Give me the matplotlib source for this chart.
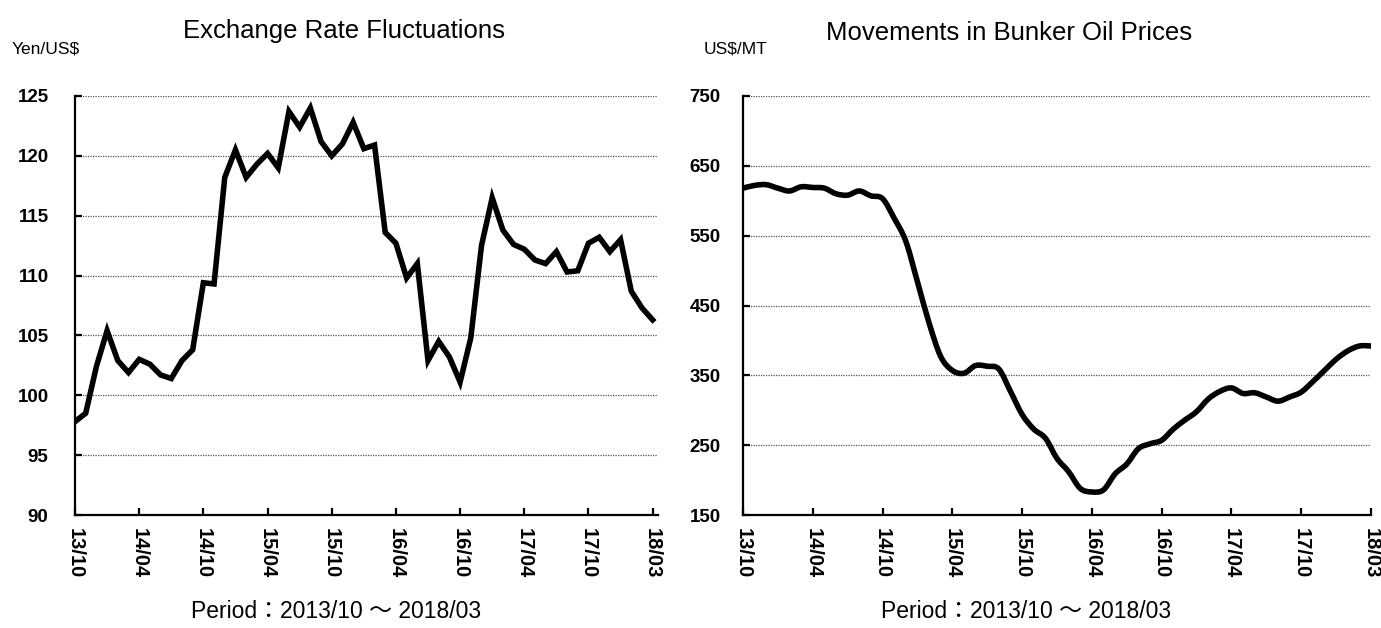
import matplotlib
matplotlib.use('Agg')
import matplotlib.pyplot as plt
from matplotlib.path import Path
from matplotlib.patches import PathPatch
import numpy as np

# monthly values, 2013/10 .. 2018/03
yen_usd = [97.8, 98.5, 102.4, 105.4, 102.9, 101.9, 103.0, 102.6, 101.7, 101.4,
           102.9, 103.8, 109.4, 109.3, 118.2, 120.5, 118.2, 119.3, 120.2, 119.0,
           123.7, 122.4, 124.0, 121.2, 120.0, 121.0, 122.8, 120.6, 120.9, 113.6,
           112.7, 109.8, 111.0, 102.9, 104.5, 103.2, 101.1, 104.8, 112.5, 116.5,
           113.8, 112.6, 112.2, 111.3, 111.0, 112.0, 110.3, 110.4, 112.7, 113.2,
           112.0, 113.0, 108.7, 107.3, 106.3]

bunker = [618, 622, 623, 618, 614, 620, 619, 618, 610, 608,
          614, 607, 603, 575, 542, 484, 425, 377, 357, 353,
          364, 363, 359, 327, 294, 273, 260, 231, 212, 188,
          183, 186, 209, 223, 245, 252, 257, 273, 286, 298,
          316, 327, 332, 324, 325, 319, 313, 319, 326, 341,
          357, 373, 385, 392, 392]

tick_labels = ['13/10', '14/04', '14/10', '15/04', '15/10',
               '16/04', '16/10', '17/04', '17/10', '18/03']
yen_ticks = [90, 95, 100, 105, 110, 115, 120, 125]
oil_ticks = [150, 250, 350, 450, 550, 650, 750]

period_text = 'Period\uff1a2013/10 \uff5e 2018/03'
txt_font = ['Liberation Sans', 'Noto Sans CJK JP', 'DejaVu Sans']


def smooth_path(x, y):
    # excel-style smoothed line: catmull-rom segments as cubic beziers
    x = np.asarray(x, float)
    y = np.asarray(y, float)
    pts = np.column_stack([x, y])
    n = len(pts)
    verts = [pts[0]]
    codes = [Path.MOVETO]
    for i in range(n - 1):
        p0 = pts[max(i - 1, 0)]
        p1 = pts[i]
        p2 = pts[i + 1]
        p3 = pts[min(i + 2, n - 1)]
        c1 = p1 + (p2 - p0) / 6.0
        c2 = p2 - (p3 - p1) / 6.0
        verts += [c1, c2, p2]
        codes += [Path.CURVE4] * 3
    return Path(verts, codes)


def style_axes(ax, yticks, xmax, ypad=16):
    for s in ['top', 'right']:
        ax.spines[s].set_visible(False)
    for s in ['left', 'bottom']:
        ax.spines[s].set_linewidth(1.6)
        ax.spines[s].set_color('black')
    ax.set_ylim(yticks[0], yticks[-1])
    ax.set_yticks(yticks)
    ax.set_xlim(0, xmax)
    ax.set_xticks(np.arange(0, 55, 6))
    ax.set_xticklabels(tick_labels, rotation=270, fontweight='bold',
                       fontsize=14.5, family='Liberation Sans')
    ax.set_yticklabels([str(t) for t in yticks], fontweight='bold',
                       fontsize=13.5, family='Liberation Sans')
    ax.tick_params(axis='y', direction='in', length=5, width=1.6, pad=ypad)
    ax.tick_params(axis='x', direction='in', length=5, width=1.6, pad=9)
    for t in yticks[1:]:
        ax.axhline(t, color='#555555', lw=0.9, ls=(0, (1, 1)), zorder=1)


fig = plt.figure(figsize=(13.81, 6.28), dpi=100)

# left: exchange rate
ax1 = fig.add_axes([75 / 1381, 1 - 515 / 628, 583 / 1381, 419 / 628])
idx = np.arange(len(yen_usd))
ax1.plot(idx, yen_usd, color='black', lw=4, solid_joinstyle='miter', zorder=3)
style_axes(ax1, yen_ticks, 54.5, ypad=19)

fig.text(344 / 1381, 1 - 31 / 628, 'Exchange Rate Fluctuations', ha='center',
         va='center', fontsize=18.5, family=txt_font)
fig.text(12 / 1381, 1 - 49 / 628, 'Yen/US$', ha='left', va='center',
         fontsize=12.5, family=txt_font)
fig.text(336 / 1381, 1 - 612 / 628, period_text, ha='center', va='center',
         fontsize=16.5, family=txt_font)

# right: bunker oil
ax2 = fig.add_axes([743 / 1381, 1 - 515 / 628, 628 / 1381, 419 / 628])
patch = PathPatch(smooth_path(np.arange(len(bunker)), bunker), facecolor='none',
                  edgecolor='black', lw=4, zorder=3, capstyle='round')
ax2.add_patch(patch)
style_axes(ax2, oil_ticks, 54)

fig.text(1009 / 1381, 1 - 33 / 628, 'Movements in Bunker Oil Prices', ha='center',
         va='center', fontsize=18.5, family=txt_font)
fig.text(704 / 1381, 1 - 49 / 628, 'US$/MT', ha='left', va='center',
         fontsize=12.5, family=txt_font)
fig.text(1026 / 1381, 1 - 612 / 628, period_text, ha='center', va='center',
         fontsize=16.5, family=txt_font)

fig.savefig('out.png', dpi=100)
